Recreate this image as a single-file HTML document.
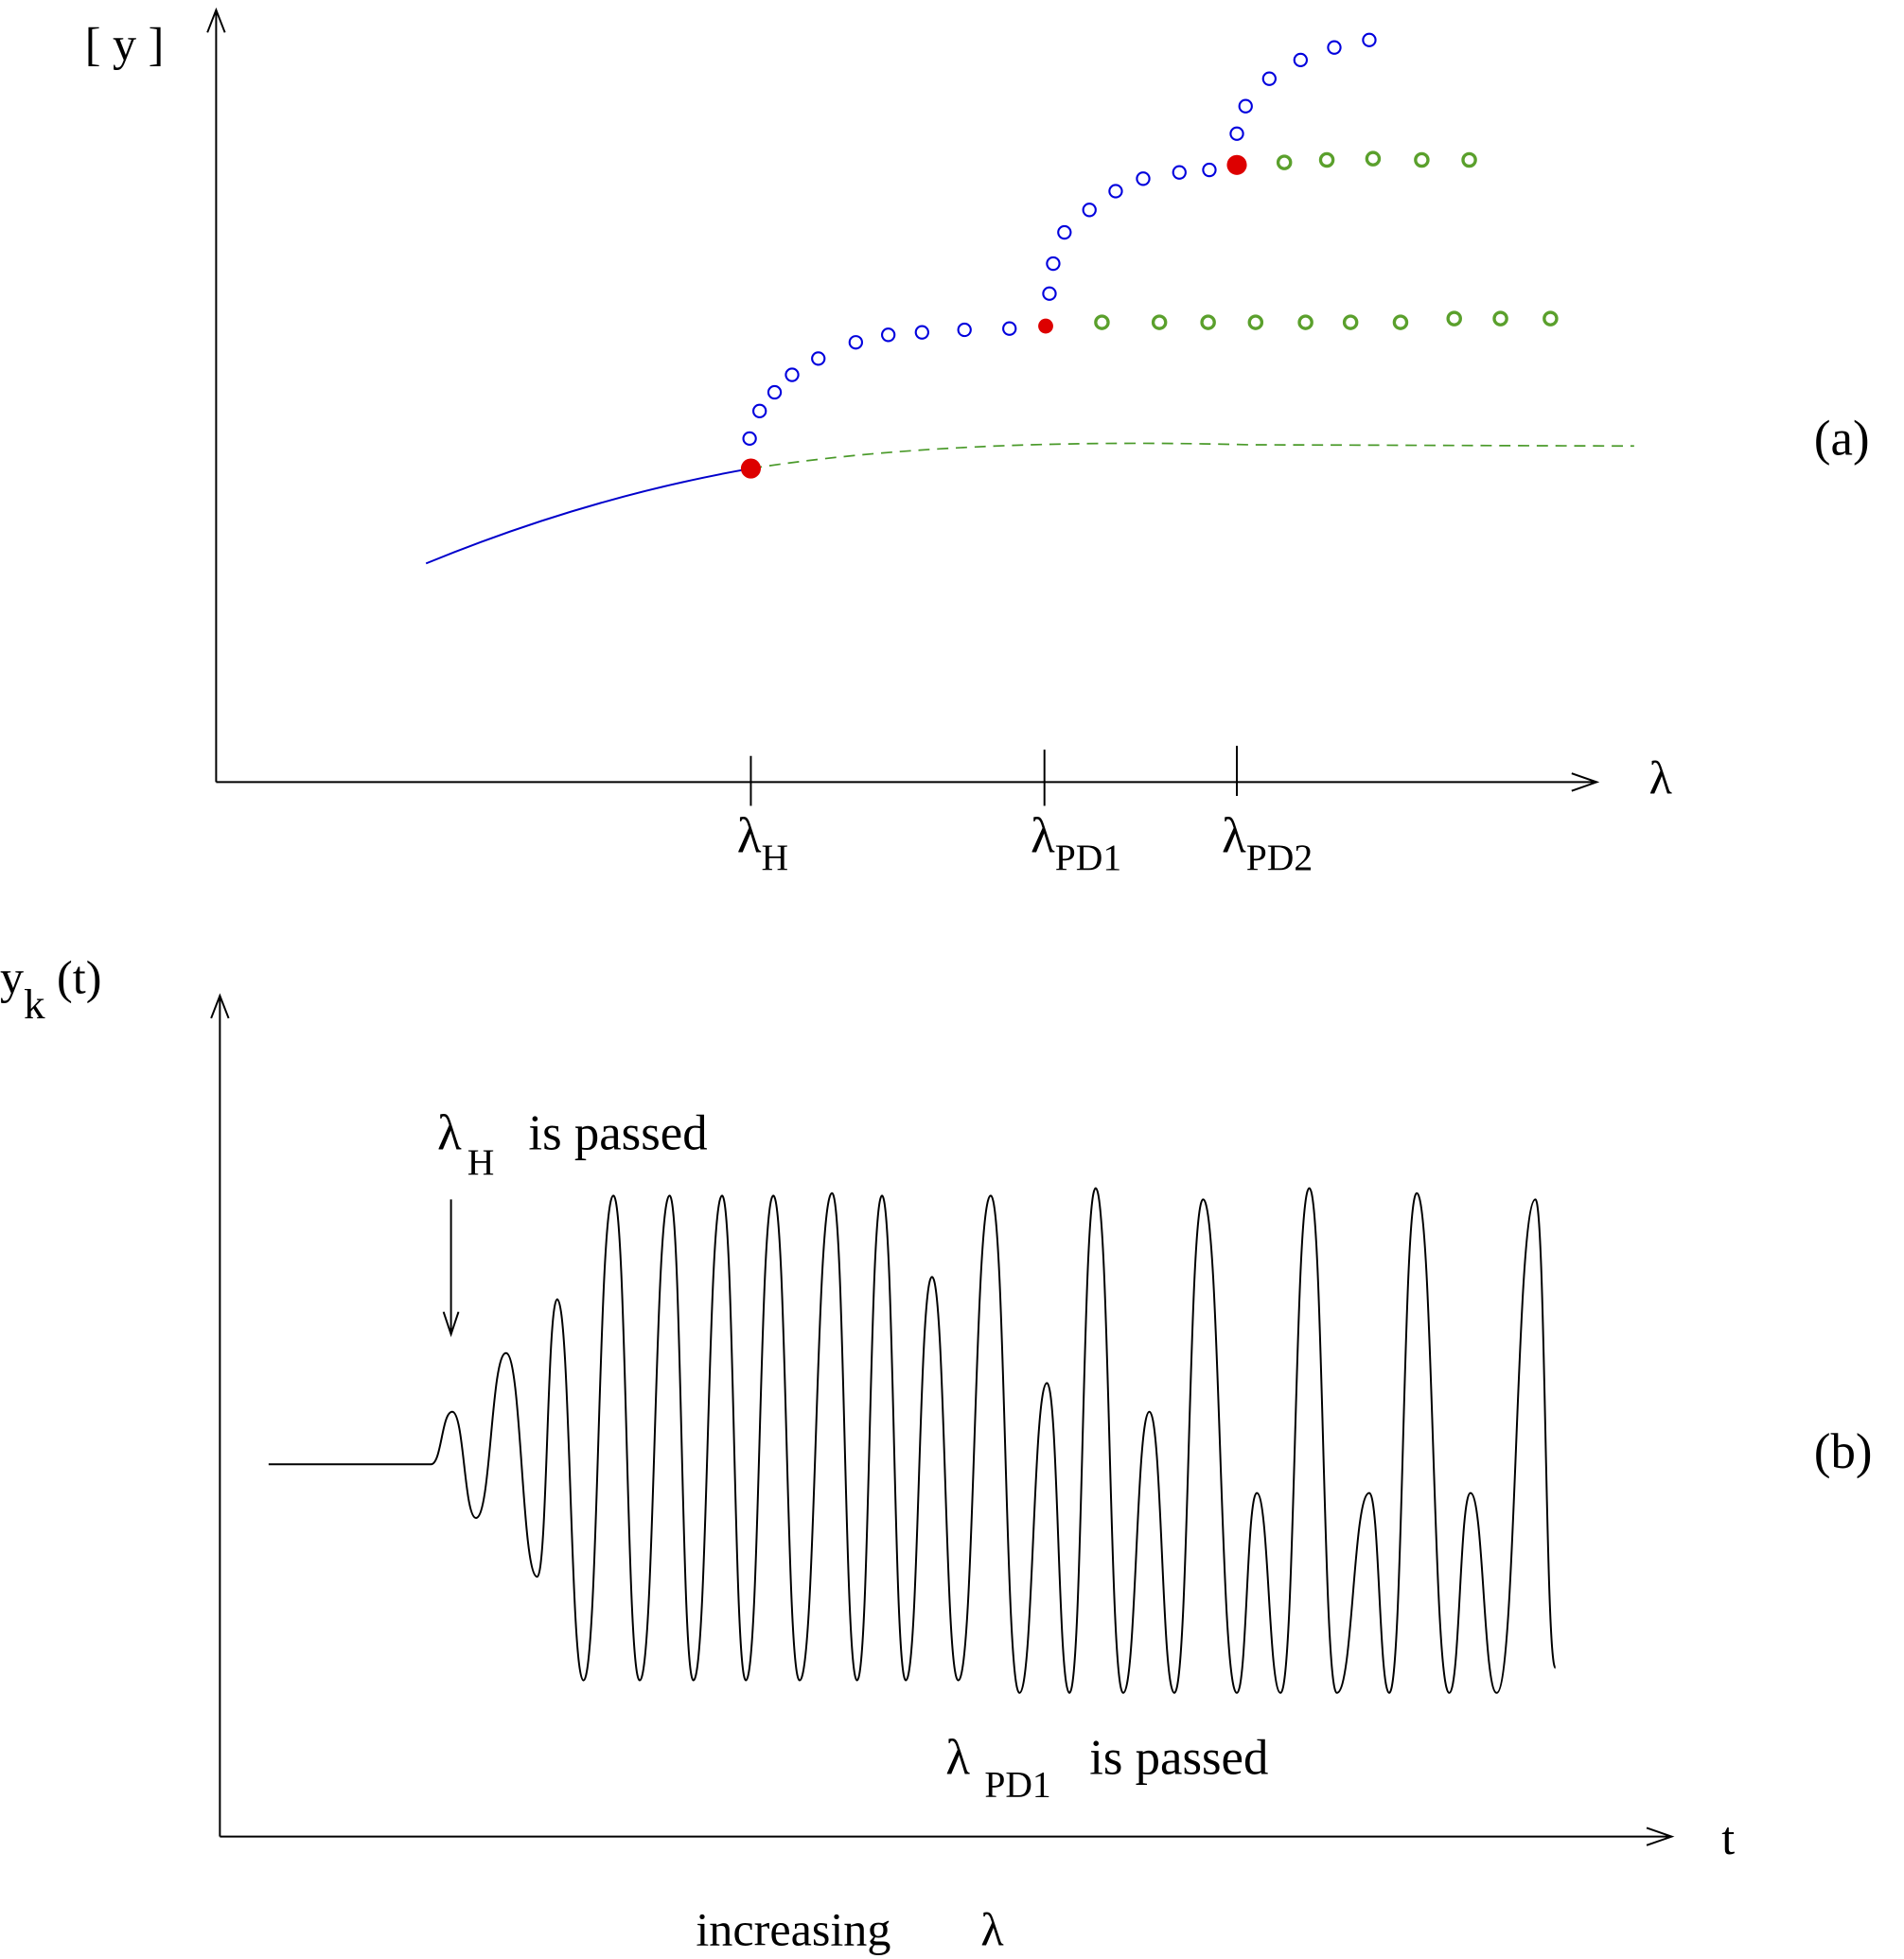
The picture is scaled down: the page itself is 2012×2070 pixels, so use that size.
<!DOCTYPE html>
<html><head><meta charset="utf-8"><style>
html,body{margin:0;padding:0;background:#fff}
svg{display:block}
text{font-family:"Liberation Serif",serif;fill:#000}
</style></head><body>
<svg width="2012" height="2070" viewBox="0 0 1524 1568" preserveAspectRatio="none" xmlns="http://www.w3.org/2000/svg">
<g stroke="#000" stroke-width="1.5" fill="none">
<path d="M173 626V8M166 26L173 8L180 26"/>
<path d="M173 626H1278M1258 619L1278 626L1258 633"/>
<path d="M601 605V645M836 600V645M990 597V637"/>
<path d="M176 1470V797M169 815L176 797L183 815"/>
<path d="M176 1470H1338M1318 1463L1338 1470L1318 1477"/>
<path d="M361 960V1068M355 1050L361 1068L367 1050"/>
</g>
<text x="68" y="48" font-size="38">[ y ]</text>
<text x="1320" y="635" font-size="38">λ</text>
<text x="590" y="682" font-size="40">λ<tspan dy="14" font-size="30">H</tspan></text>
<text x="825" y="682" font-size="40">λ<tspan dy="14" font-size="30">PD1</tspan></text>
<text x="978" y="682" font-size="40">λ<tspan dy="14" font-size="30">PD2</tspan></text>
<text x="1452" y="364" font-size="40">(a)</text>
<text x="1452" y="1175" font-size="40">(b)</text>
<text x="1378" y="1484" font-size="38">t</text>
<text x="0" y="795" font-size="38">y<tspan dy="20" font-size="34">k</tspan><tspan dy="-20"> (t)</tspan></text>
<text x="350" y="920" font-size="40">λ<tspan dy="20" font-size="30" x="374">H</tspan></text>
<text x="423" y="920" font-size="40">is passed</text>
<text x="757" y="1420" font-size="40">λ<tspan dy="18" font-size="30" x="788">PD1</tspan></text>
<text x="872" y="1420" font-size="40">is passed</text>
<text x="557" y="1557" font-size="38">increasing</text>
<text x="785" y="1557" font-size="38">λ</text>
<path d="M341 451Q470 398 601 375" stroke="#0000cc" stroke-width="1.5" fill="none"/>
<path d="M601 375Q760 350 1000 356L1308 357" stroke="#4a9a2a" stroke-width="1.3" stroke-dasharray="9,6" fill="none"/>
<g fill="none" stroke="#0000dd" stroke-width="1.6" id="blue"></g>
<g fill="none" stroke="#5aa02c" stroke-width="2.5" id="green"></g>
<g fill="#dd0000">
<circle cx="601" cy="375" r="8"/><circle cx="837" cy="261" r="6"/><circle cx="990" cy="132" r="8"/>
</g>
<path id="osc" fill="none" stroke="#000" stroke-width="1.5"/>
</svg>
<script>
var ns="http://www.w3.org/2000/svg";
function circ(g,pts,r){pts.forEach(function(p){var c=document.createElementNS(ns,"circle");c.setAttribute("cx",p[0]);c.setAttribute("cy",p[1]);c.setAttribute("r",r);g.appendChild(c);});}
circ(document.getElementById("blue"),[[600,351],[608,329],[620,314],[634,300],[655,287],[685,274],[711,268],[738,266],[772,264],[808,263],[840,235],[843,211],[852,186],[872,168],[893,153],[915,143],[944,138],[968,136],[990,107],[997,85],[1016,63],[1041,48],[1068,38],[1096,32]],5);
circ(document.getElementById("green"),[[1028,130],[1062,128],[1099,127],[1138,128],[1176,128],[882,258],[928,258],[967,258],[1005,258],[1045,258],[1081,258],[1121,258],[1164,255],[1201,255],[1241,255]],5);
var e=[[345,1172],[362,1130],[381,1215],[405,1083],[430,1262],[446,1040],[467,1345],[491,957],[512,1345],[536,957],[555,1345],[578,957],[597,1345],[619,957],[640,1345],[666,955],[686,1345],[706,957],[725,1345],[746,1022],[767,1345],[793,957],[816,1355],[838,1107],[856,1355],[877,951],[899,1355],[920,1130],[940,1355],[963,960],[990,1355],[1006,1195],[1025,1355],[1048,951],[1070,1355],[1096,1195],[1112,1355],[1134,955],[1160,1355],[1177,1195],[1198,1355],[1229,960],[1245,1335]];
var d="M215 1172L345 1172";
for(var i=1;i<e.length;i++){var a=e[i-1],b=e[i],dx=b[0]-a[0],k=0.5;
d+=" C"+(a[0]+k*dx)+" "+a[1]+" "+(b[0]-k*dx)+" "+b[1]+" "+b[0]+" "+b[1];}
document.getElementById("osc").setAttribute("d",d);
</script>
</body></html>
